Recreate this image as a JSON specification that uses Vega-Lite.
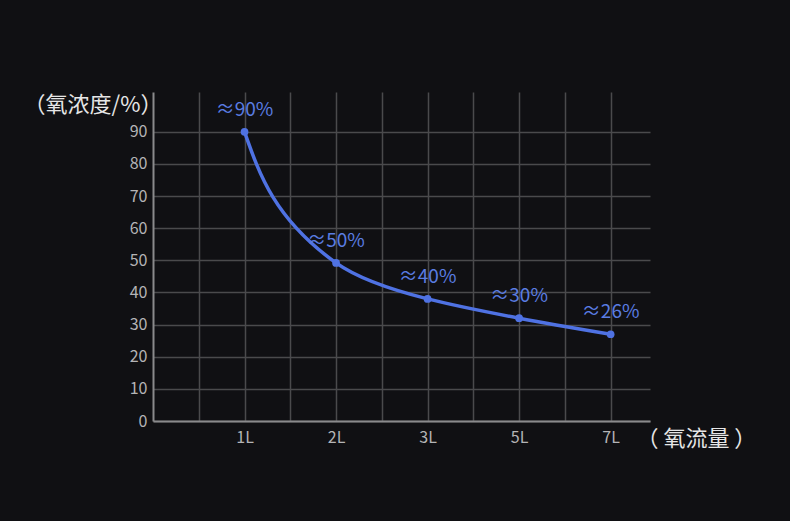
{
  "$schema": "https://vega.github.io/schema/vega-lite/v6.json",
  "width": 497,
  "height": 329,
  "autosize": {"type": "none"},
  "padding": {"left": 153, "top": 92, "right": 140, "bottom": 100},
  "background": "#101013",
  "config": {
    "view": {"stroke": null},
    "font": "Noto Sans CJK SC"
  },
  "data": {
    "values": [
      {"i": 1, "flow": "1L", "o2": 90, "label": "≈90%"},
      {"i": 2, "flow": "2L", "o2": 49.2, "label": "≈50%"},
      {"i": 3, "flow": "3L", "o2": 38, "label": "≈40%"},
      {"i": 4, "flow": "5L", "o2": 32, "label": "≈30%"},
      {"i": 5, "flow": "7L", "o2": 27, "label": "≈26%"}
    ]
  },
  "encoding": {
    "x": {
      "field": "i",
      "type": "quantitative",
      "scale": {"domain": [0, 5.43], "nice": false, "zero": false},
      "axis": {
        "values": [0.5, 1, 1.5, 2, 2.5, 3, 3.5, 4, 4.5, 5],
        "labelExpr": "datum.value == 1 ? '1L' : datum.value == 2 ? '2L' : datum.value == 3 ? '3L' : datum.value == 4 ? '5L' : datum.value == 5 ? '7L' : ''",
        "grid": true,
        "gridColor": "#4a4a4c",
        "gridWidth": 1.5,
        "domainColor": "#8a8a8c",
        "domainWidth": 2,
        "ticks": false,
        "labelColor": "#b4b4b6",
        "labelFontSize": 16,
        "labelPadding": 8,
        "title": "（ 氧流量 ）",
        "titleColor": "#e6e6e6",
        "titleFontSize": 22,
        "titleFontWeight": "normal",
        "titleAngle": 0,
        "titleAlign": "left",
        "titleBaseline": "middle",
        "titleX": 483,
        "titleY": 17
      }
    },
    "y": {
      "field": "o2",
      "type": "quantitative",
      "scale": {"domain": [0, 102.4], "nice": false},
      "axis": {
        "values": [0, 10, 20, 30, 40, 50, 60, 70, 80, 90],
        "grid": true,
        "gridColor": "#4a4a4c",
        "gridWidth": 1.5,
        "domainColor": "#8a8a8c",
        "domainWidth": 2,
        "ticks": false,
        "labelColor": "#b4b4b6",
        "labelFontSize": 16,
        "labelPadding": 6,
        "title": "（氧浓度/%）",
        "titleColor": "#e6e6e6",
        "titleFontSize": 22,
        "titleFontWeight": "normal",
        "titleAngle": 0,
        "titleAlign": "right",
        "titleBaseline": "middle",
        "titleX": 9,
        "titleY": 12
      }
    }
  },
  "layer": [
    {
      "mark": {"type": "area", "orient": "horizontal", "interpolate": "monotone", "fillOpacity": 0, "fill": "#101013", "stroke": "#4f72e3", "strokeWidth": 3.5, "strokeJoin": "round", "strokeCap": "round"},
      "encoding": {
        "x2": {"field": "i"}
      }
    },
    {
      "mark": {"type": "point", "filled": true, "color": "#4f72e3", "size": 60, "opacity": 1}
    },
    {
      "mark": {"type": "text", "color": "#5a7de2", "fontSize": 19, "dy": -22, "baseline": "middle", "font": "Noto Sans CJK SC"},
      "encoding": {"text": {"field": "label"}}
    }
  ]
}
